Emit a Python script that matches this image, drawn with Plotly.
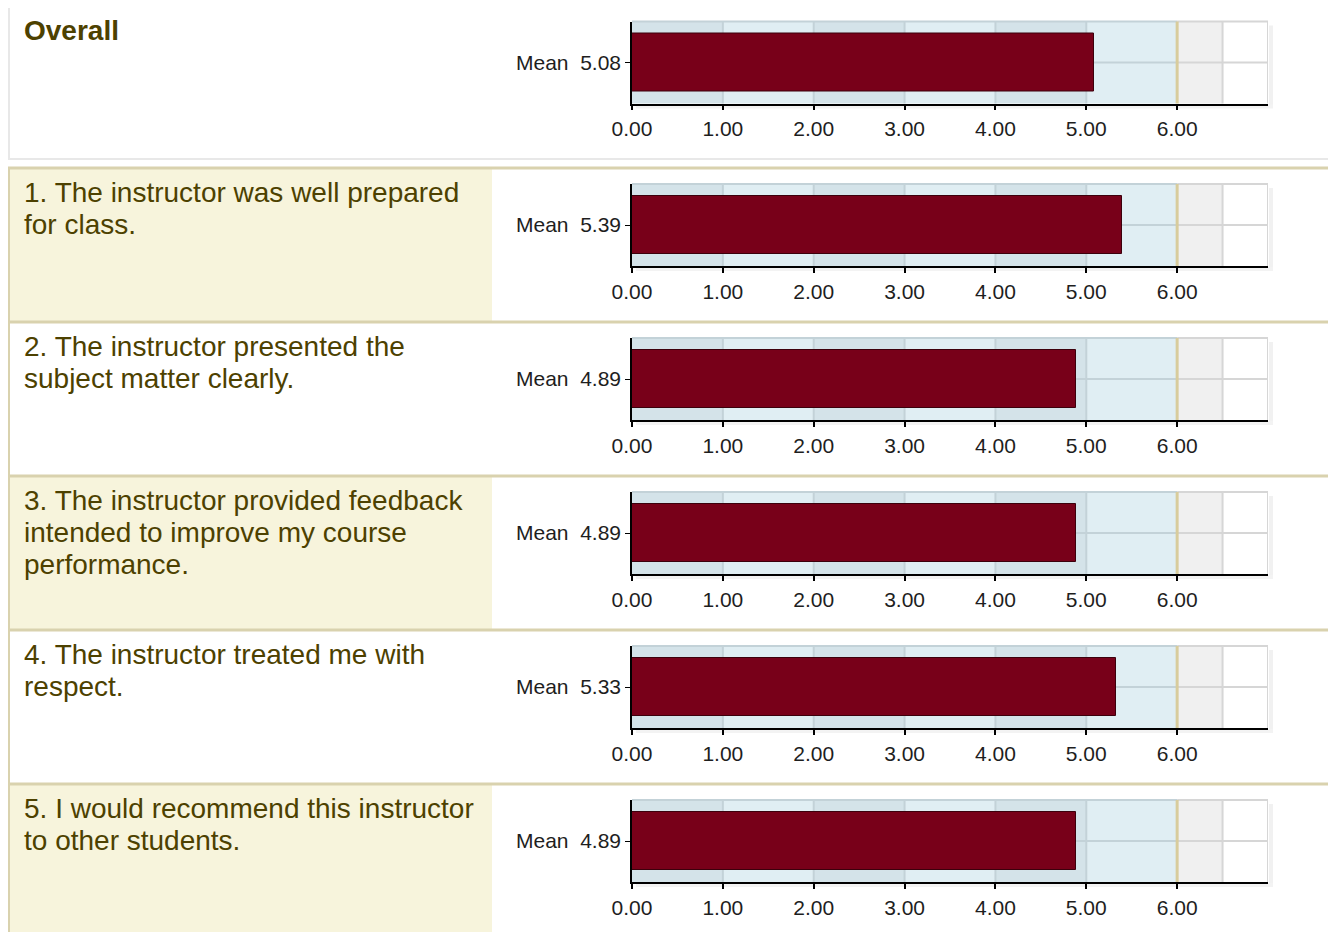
import plotly.graph_objects as go

# page body adds an 8px margin, so the figure is drawn 8px smaller and
# every pixel position below is given in page pixels and shifted by OFF.
OFF = 8
W, H = 1336 - OFF, 932 - OFF

# ---------------- data ----------------
question_lines = [
    ["Overall"],
    ["1. The instructor was well prepared", "for class."],
    ["2. The instructor presented the", "subject matter clearly."],
    ["3. The instructor provided feedback", "intended to improve my course", "performance."],
    ["4. The instructor treated me with", "respect."],
    ["5. I would recommend this instructor", "to other students."],
]
means = [5.08, 5.39, 4.89, 4.89, 5.33, 4.89]
x_ticks = [0, 1, 2, 3, 4, 5, 6]
x_tick_labels = ["0.00", "1.00", "2.00", "3.00", "4.00", "5.00", "6.00"]
x_max = 7
scale_max = 6

# ---------------- styling / layout ----------------
TEXT_COLOR = "#4d4100"
BEIGE = "#f7f4dc"
TAN = "#d9d2ae"
BAR_COLOR = "#780019"
BAR_EDGE = "#3c000c"
BAND_DARK = "#d4e3e9"
BAND_LIGHT = "#e0eef3"
GRID_BLUE = "#c3d2d8"
GREY_BAND = "#f0f0f0"
GREY_LINE = "#d6d6d6"
TARGET_LINE = "#d8cc9c"
FONT = "Liberation Sans, Arial, sans-serif"

row_seps = [168, 322, 476, 630, 784]
plot_tops = [21.5, 184, 338, 492, 646, 800]
plot_h = 82
px0, px1 = 632, 1268
page_h = 932


def fx(x):
    return (x - OFF) / W


def fy(y):
    return 1 - (y - OFF) / H


fig = go.Figure()
shapes = []
annotations = []

# Overall box
shapes.append(dict(type="rect", xref="paper", yref="paper", layer="below",
                   x0=fx(9), x1=fx(1335), y0=fy(159), y1=fy(7),
                   line=dict(color="#e8e8e8", width=2), fillcolor="white"))

# beige cells for rows 1, 3, 5
row_bounds = row_seps + [page_h + 2]
for k in (0, 2, 4):
    shapes.append(dict(type="rect", xref="paper", yref="paper", layer="below",
                       x0=fx(9), x1=fx(492), y0=fy(row_bounds[k + 1]), y1=fy(row_bounds[k] + 1),
                       line=dict(width=0), fillcolor=BEIGE))
# separators
for s in row_seps:
    shapes.append(dict(type="line", xref="paper", yref="paper", layer="below",
                       x0=fx(8), x1=1, y0=fy(s), y1=fy(s),
                       line=dict(color=TAN, width=3)))
shapes.append(dict(type="line", xref="paper", yref="paper", layer="below",
                   x0=fx(9), x1=fx(9), y0=fy(page_h + 2), y1=fy(row_seps[0]),
                   line=dict(color=TAN, width=2)))

# question text
for i, lines in enumerate(question_lines):
    if i == 0:
        y_start = 30
    else:
        y_start = row_seps[i - 1] + 24.5
    for j, line in enumerate(lines):
        annotations.append(dict(
            xref="paper", yref="paper", x=fx(22), y=fy(y_start + 32 * j),
            xanchor="left", yanchor="middle", showarrow=False,
            text=f"<b>{line}</b>" if i == 0 else line,
            font=dict(family=FONT, size=28, color=TEXT_COLOR),
        ))

layout_axes = {}
for i, m in enumerate(means):
    n = "" if i == 0 else str(i + 1)
    xa, ya = "x" + n, "y" + n
    top = plot_tops[i]
    label = f"Mean  {m:.2f}"
    fig.add_trace(go.Bar(
        x=[m], y=[label], orientation="h", width=0.71,
        marker=dict(color=BAR_COLOR, line=dict(color=BAR_EDGE, width=1)),
        xaxis=xa, yaxis=ya, showlegend=False, hoverinfo="skip",
    ))
    layout_axes["xaxis" + n] = dict(
        domain=[fx(px0), fx(px1)], anchor=ya, range=[0, x_max],
        tickvals=x_ticks, ticktext=x_tick_labels, automargin=False,
        showgrid=False, zeroline=False, showline=True, linecolor="black", linewidth=1.5,
        ticks="outside", ticklen=5, tickcolor="black", tickwidth=1.5,
        ticklabelstandoff=1,
        tickfont=dict(family=FONT, size=21, color="#1e1e1e"),
        fixedrange=True,
    )
    layout_axes["yaxis" + n] = dict(
        domain=[fy(top + plot_h), fy(top)], anchor=xa, range=[-0.5, 0.5],
        type="category", automargin=False,
        showgrid=False, zeroline=False, showline=True, linecolor="black", linewidth=1.5,
        ticks="outside", ticklen=5, tickcolor="black", tickwidth=1.2,
        tickfont=dict(family=FONT, size=21, color="#1e1e1e"),
        fixedrange=True,
    )
    # soft shadow right / below the plot area
    shapes.append(dict(type="rect", xref="paper", yref="paper", layer="below",
                       x0=fx(px1 + 1), x1=fx(px1 + 5), y0=fy(top + plot_h + 4), y1=fy(top + 4),
                       line=dict(width=0), fillcolor="#f1f1f1"))
    shapes.append(dict(type="rect", xref="paper", yref="paper", layer="below",
                       x0=fx(px0 + 4), x1=fx(px1 + 5), y0=fy(top + plot_h + 5), y1=fy(top + plot_h + 1),
                       line=dict(width=0), fillcolor="#f3f3f3"))
    xr, yr = xa, ya + " domain"
    # bands
    for k in range(scale_max):
        shapes.append(dict(type="rect", xref=xr, yref=yr, layer="below",
                           x0=k, x1=k + 1, y0=0, y1=1, line=dict(width=0),
                           fillcolor=BAND_DARK if k % 2 == 0 else BAND_LIGHT))
    shapes.append(dict(type="rect", xref=xr, yref=yr, layer="below",
                       x0=scale_max, x1=scale_max + 0.5, y0=0, y1=1, line=dict(width=0),
                       fillcolor=GREY_BAND))
    shapes.append(dict(type="rect", xref=xr, yref=yr, layer="below",
                       x0=scale_max + 0.5, x1=x_max, y0=0, y1=1, line=dict(width=0),
                       fillcolor="white"))
    # horizontal mid grid + top border
    shapes.append(dict(type="line", xref=xr, yref=yr, layer="below",
                       x0=0, x1=scale_max, y0=0.5, y1=0.5, line=dict(color=GRID_BLUE, width=2)))
    shapes.append(dict(type="line", xref=xr, yref=yr, layer="below",
                       x0=scale_max, x1=x_max, y0=0.5, y1=0.5, line=dict(color=GREY_LINE, width=2)))
    shapes.append(dict(type="line", xref=xr, yref=yr, layer="below",
                       x0=0, x1=scale_max, y0=1, y1=1, line=dict(color=GRID_BLUE, width=2)))
    shapes.append(dict(type="line", xref=xr, yref=yr, layer="below",
                       x0=scale_max, x1=x_max, y0=1, y1=1, line=dict(color=GREY_LINE, width=2)))
    # vertical grid
    for k in range(1, scale_max):
        shapes.append(dict(type="line", xref=xr, yref=yr, layer="below",
                           x0=k, x1=k, y0=0, y1=1, line=dict(color=GRID_BLUE, width=2)))
    for xv in (scale_max + 0.5, x_max):
        shapes.append(dict(type="line", xref=xr, yref=yr, layer="below",
                           x0=xv, x1=xv, y0=0, y1=1, line=dict(color=GREY_LINE, width=2)))
    shapes.append(dict(type="line", xref=xr, yref=yr, layer="below",
                       x0=scale_max, x1=scale_max, y0=0, y1=1,
                       line=dict(color=TARGET_LINE, width=3)))

fig.update_layout(
    width=W, height=H, autosize=False,
    margin=dict(l=0, r=0, t=0, b=0, pad=0),
    paper_bgcolor="white", plot_bgcolor="white",
    shapes=shapes, annotations=annotations,
    showlegend=False, bargap=0,
    **layout_axes,
)

fig.write_html("out.html", config={"displayModeBar": False})
